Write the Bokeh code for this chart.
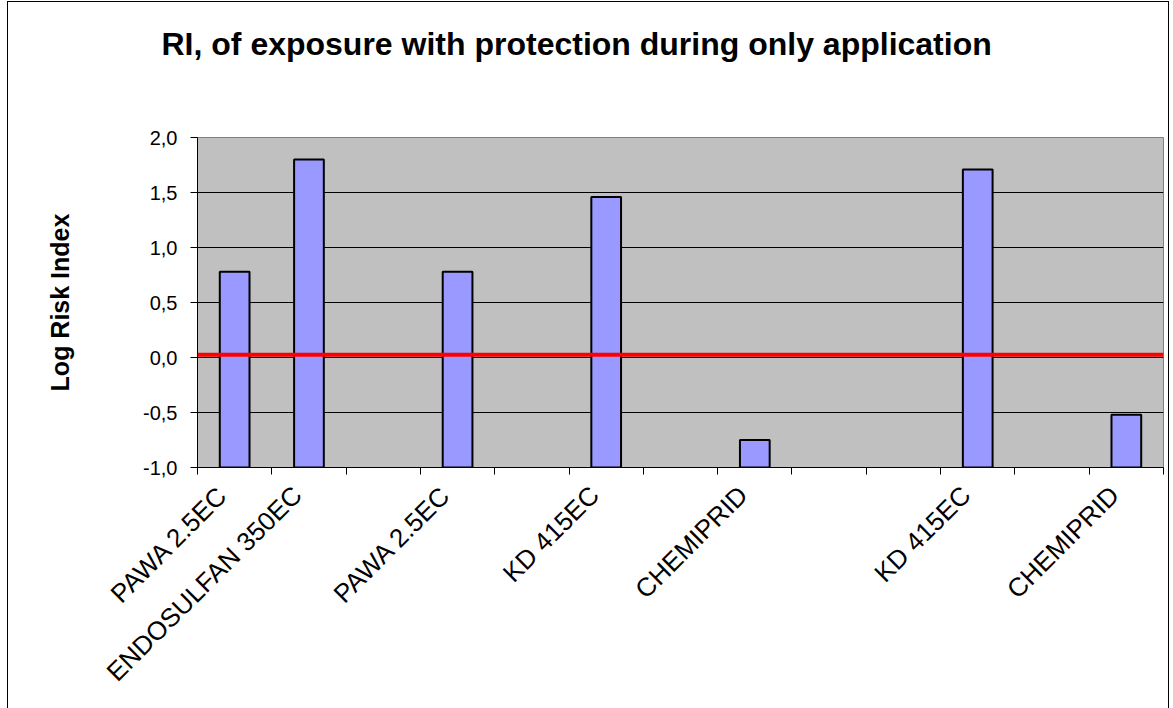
from bokeh.plotting import figure
from bokeh.models import FixedTicker, Span, ColumnDataSource, Title
from bokeh.embed import file_html
from bokeh.resources import INLINE

# ---- data ----
categories = ["PAWA 2.5EC", "ENDOSULFAN 350EC", "", "PAWA 2.5EC", "", "KD 415EC", "",
              "CHEMIPRID", "", "", "KD 415EC", "", "CHEMIPRID"]
values = [0.78, 1.80, None, 0.78, None, 1.46, None, -0.75, None, None, 1.71, None, -0.52]
threshold_value = 0.025
y_ticks = [-1.0, -0.5, 0.0, 0.5, 1.0, 1.5, 2.0]
y_tick_labels = ["-1,0", "-0,5", "0,0", "0,5", "1,0", "1,5", "2,0"]
y_min, y_max = -1.0, 2.0

title_text = "RI, of exposure with protection during only application"
y_label = "Log Risk Index"

FONT = "Liberation Sans"

n = len(categories)
centers = [i + 0.5 for i in range(n)]
label_pos = [c - 0.16 for c in centers]
bar_x = [centers[i] for i, v in enumerate(values) if v is not None]
bar_top = [v for v in values if v is not None]
src = ColumnDataSource(dict(x=bar_x, top=bar_top, bottom=[y_min] * len(bar_x)))

p = figure(width=1160, height=706, output_backend="svg", toolbar_location=None,
           x_range=(0, n), y_range=(y_min, y_max),
           min_border_left=189, min_border_right=5, min_border_top=135, min_border_bottom=241)
p.styles = {"outline": "1px solid #000000", "margin-left": "8px", "margin-top": "2px"}

p.background_fill_color = "#C0C0C0"
p.border_fill_color = "#FFFFFF"
p.outline_line_color = "#808080"
p.outline_line_width = 1

# spacer between frame and title
p.add_layout(Title(text=" ", text_font_size="10px", standoff=58), "above")

# title
p.title.text = title_text
p.title.text_font = FONT
p.title.text_font_size = "32px"
p.title.text_font_style = "bold"
p.title.text_color = "#000000"
p.title.align = "left"
p.title.offset = -36
p.title.standoff = 10

# bars
p.vbar(x="x", top="top", bottom="bottom", width=0.40, source=src,
       fill_color="#9999FF", line_color="#000000", line_width=2)

# threshold line
p.add_layout(Span(location=threshold_value, dimension="width",
                  line_color="#FF0000", line_width=4))

# y axis
yax = p.yaxis[0]
yax.ticker = FixedTicker(ticks=y_ticks)
yax.major_label_overrides = {t: l for t, l in zip(y_ticks, y_tick_labels)}
yax.major_label_text_font = FONT
yax.major_label_text_font_size = "20px"
yax.major_label_text_color = "#000000"
yax.major_tick_out = 7
yax.major_tick_in = 0
yax.minor_tick_out = 0
yax.minor_tick_in = 0
yax.major_label_standoff = 13
yax.axis_line_color = "#000000"
yax.major_tick_line_color = "#000000"
yax.axis_label = y_label
yax.axis_label_text_font = FONT
yax.axis_label_text_font_size = "25px"
yax.axis_label_text_font_style = "bold"
yax.axis_label_text_color = "#000000"
yax.axis_label_standoff = 66

# x axis
xax = p.xaxis[0]
xax.ticker = FixedTicker(ticks=label_pos, minor_ticks=list(range(n + 1)))
xax.major_label_overrides = {c: lab for c, lab in zip(label_pos, categories)}
xax.major_label_orientation = 0.785398
xax.major_label_text_font = FONT
xax.major_label_text_font_size = "26px"
xax.major_label_text_color = "#000000"
xax.major_tick_out = 0
xax.major_tick_in = 0
xax.minor_tick_out = 7
xax.minor_tick_in = 0
xax.minor_tick_line_color = "#000000"
xax.axis_line_color = "#000000"
xax.major_label_standoff = 16

# grids
p.xgrid.visible = False
p.ygrid.ticker = FixedTicker(ticks=y_ticks)
p.ygrid.grid_line_color = "#000000"
p.ygrid.grid_line_width = 1

open("out.html", "w").write(file_html(p, INLINE))
